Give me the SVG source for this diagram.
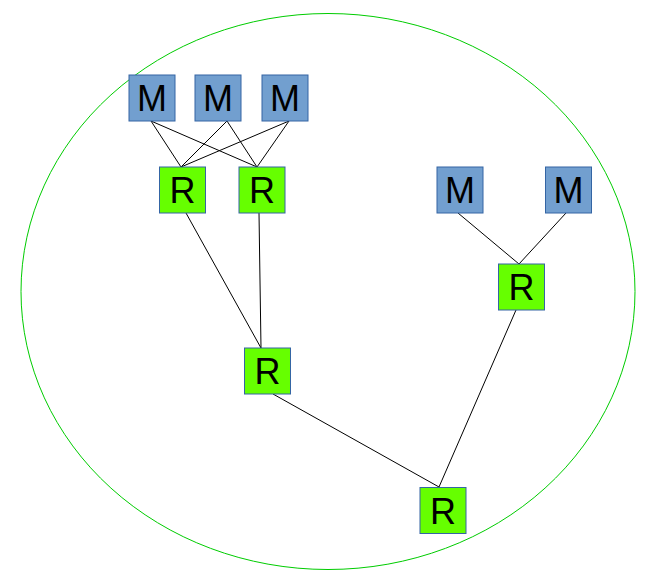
<svg xmlns="http://www.w3.org/2000/svg" width="656" height="579" viewBox="0 0 656 579">
<style>
.m{fill:#729fcf;stroke:#3465a4;stroke-width:1}
.r{fill:#66ff00;stroke:#3465a4;stroke-width:1}
.t{font-family:"Liberation Sans",Arial,sans-serif;font-size:36px;fill:#000;text-anchor:middle}
.c line{stroke:#000;stroke-width:1}
</style>
<rect width="656" height="579" fill="#fff"/>
<ellipse id="boundary" cx="328" cy="291.5" rx="307" ry="278" fill="none" stroke="#00cc00" stroke-width="1"/>
<g class="c" id="connectors">
<line x1="151" y1="121" x2="181" y2="167"/>
<line x1="151" y1="121" x2="257" y2="167"/>
<line x1="227" y1="121" x2="181" y2="167"/>
<line x1="227" y1="121" x2="257" y2="167"/>
<line x1="289" y1="121" x2="181" y2="167"/>
<line x1="289" y1="121" x2="257" y2="167"/>
<line x1="186" y1="213" x2="261" y2="348"/>
<line x1="259" y1="213" x2="261" y2="348"/>
<line x1="458" y1="213" x2="519" y2="264"/>
<line x1="566" y1="213" x2="519" y2="264"/>
<line x1="273" y1="394" x2="439" y2="487"/>
<line x1="516" y1="310" x2="439" y2="487"/>
</g>
<g id="m1"><rect class="m" x="129" y="75" width="46" height="46"/><text class="t" x="152" y="111">M</text></g>
<g id="m2"><rect class="m" x="195" y="75" width="46" height="46"/><text class="t" x="218" y="111">M</text></g>
<g id="m3"><rect class="m" x="262" y="75" width="46" height="46"/><text class="t" x="285" y="111">M</text></g>
<g id="r1"><rect class="r" x="159.5" y="167" width="46" height="46"/><text class="t" x="182.5" y="203">R</text></g>
<g id="r2"><rect class="r" x="239" y="167" width="46" height="46"/><text class="t" x="262" y="203">R</text></g>
<g id="m4"><rect class="m" x="437" y="167" width="46" height="46"/><text class="t" x="460" y="203">M</text></g>
<g id="m5"><rect class="m" x="545.5" y="167" width="46" height="46"/><text class="t" x="568.5" y="203">M</text></g>
<g id="r3"><rect class="r" x="498.5" y="264" width="46" height="46"/><text class="t" x="521.5" y="300">R</text></g>
<g id="r4"><rect class="r" x="244.5" y="348" width="46" height="46"/><text class="t" x="267.5" y="384">R</text></g>
<g id="r5"><rect class="r" x="420" y="487.5" width="46" height="46"/><text class="t" x="443" y="523.5">R</text></g>
</svg>
